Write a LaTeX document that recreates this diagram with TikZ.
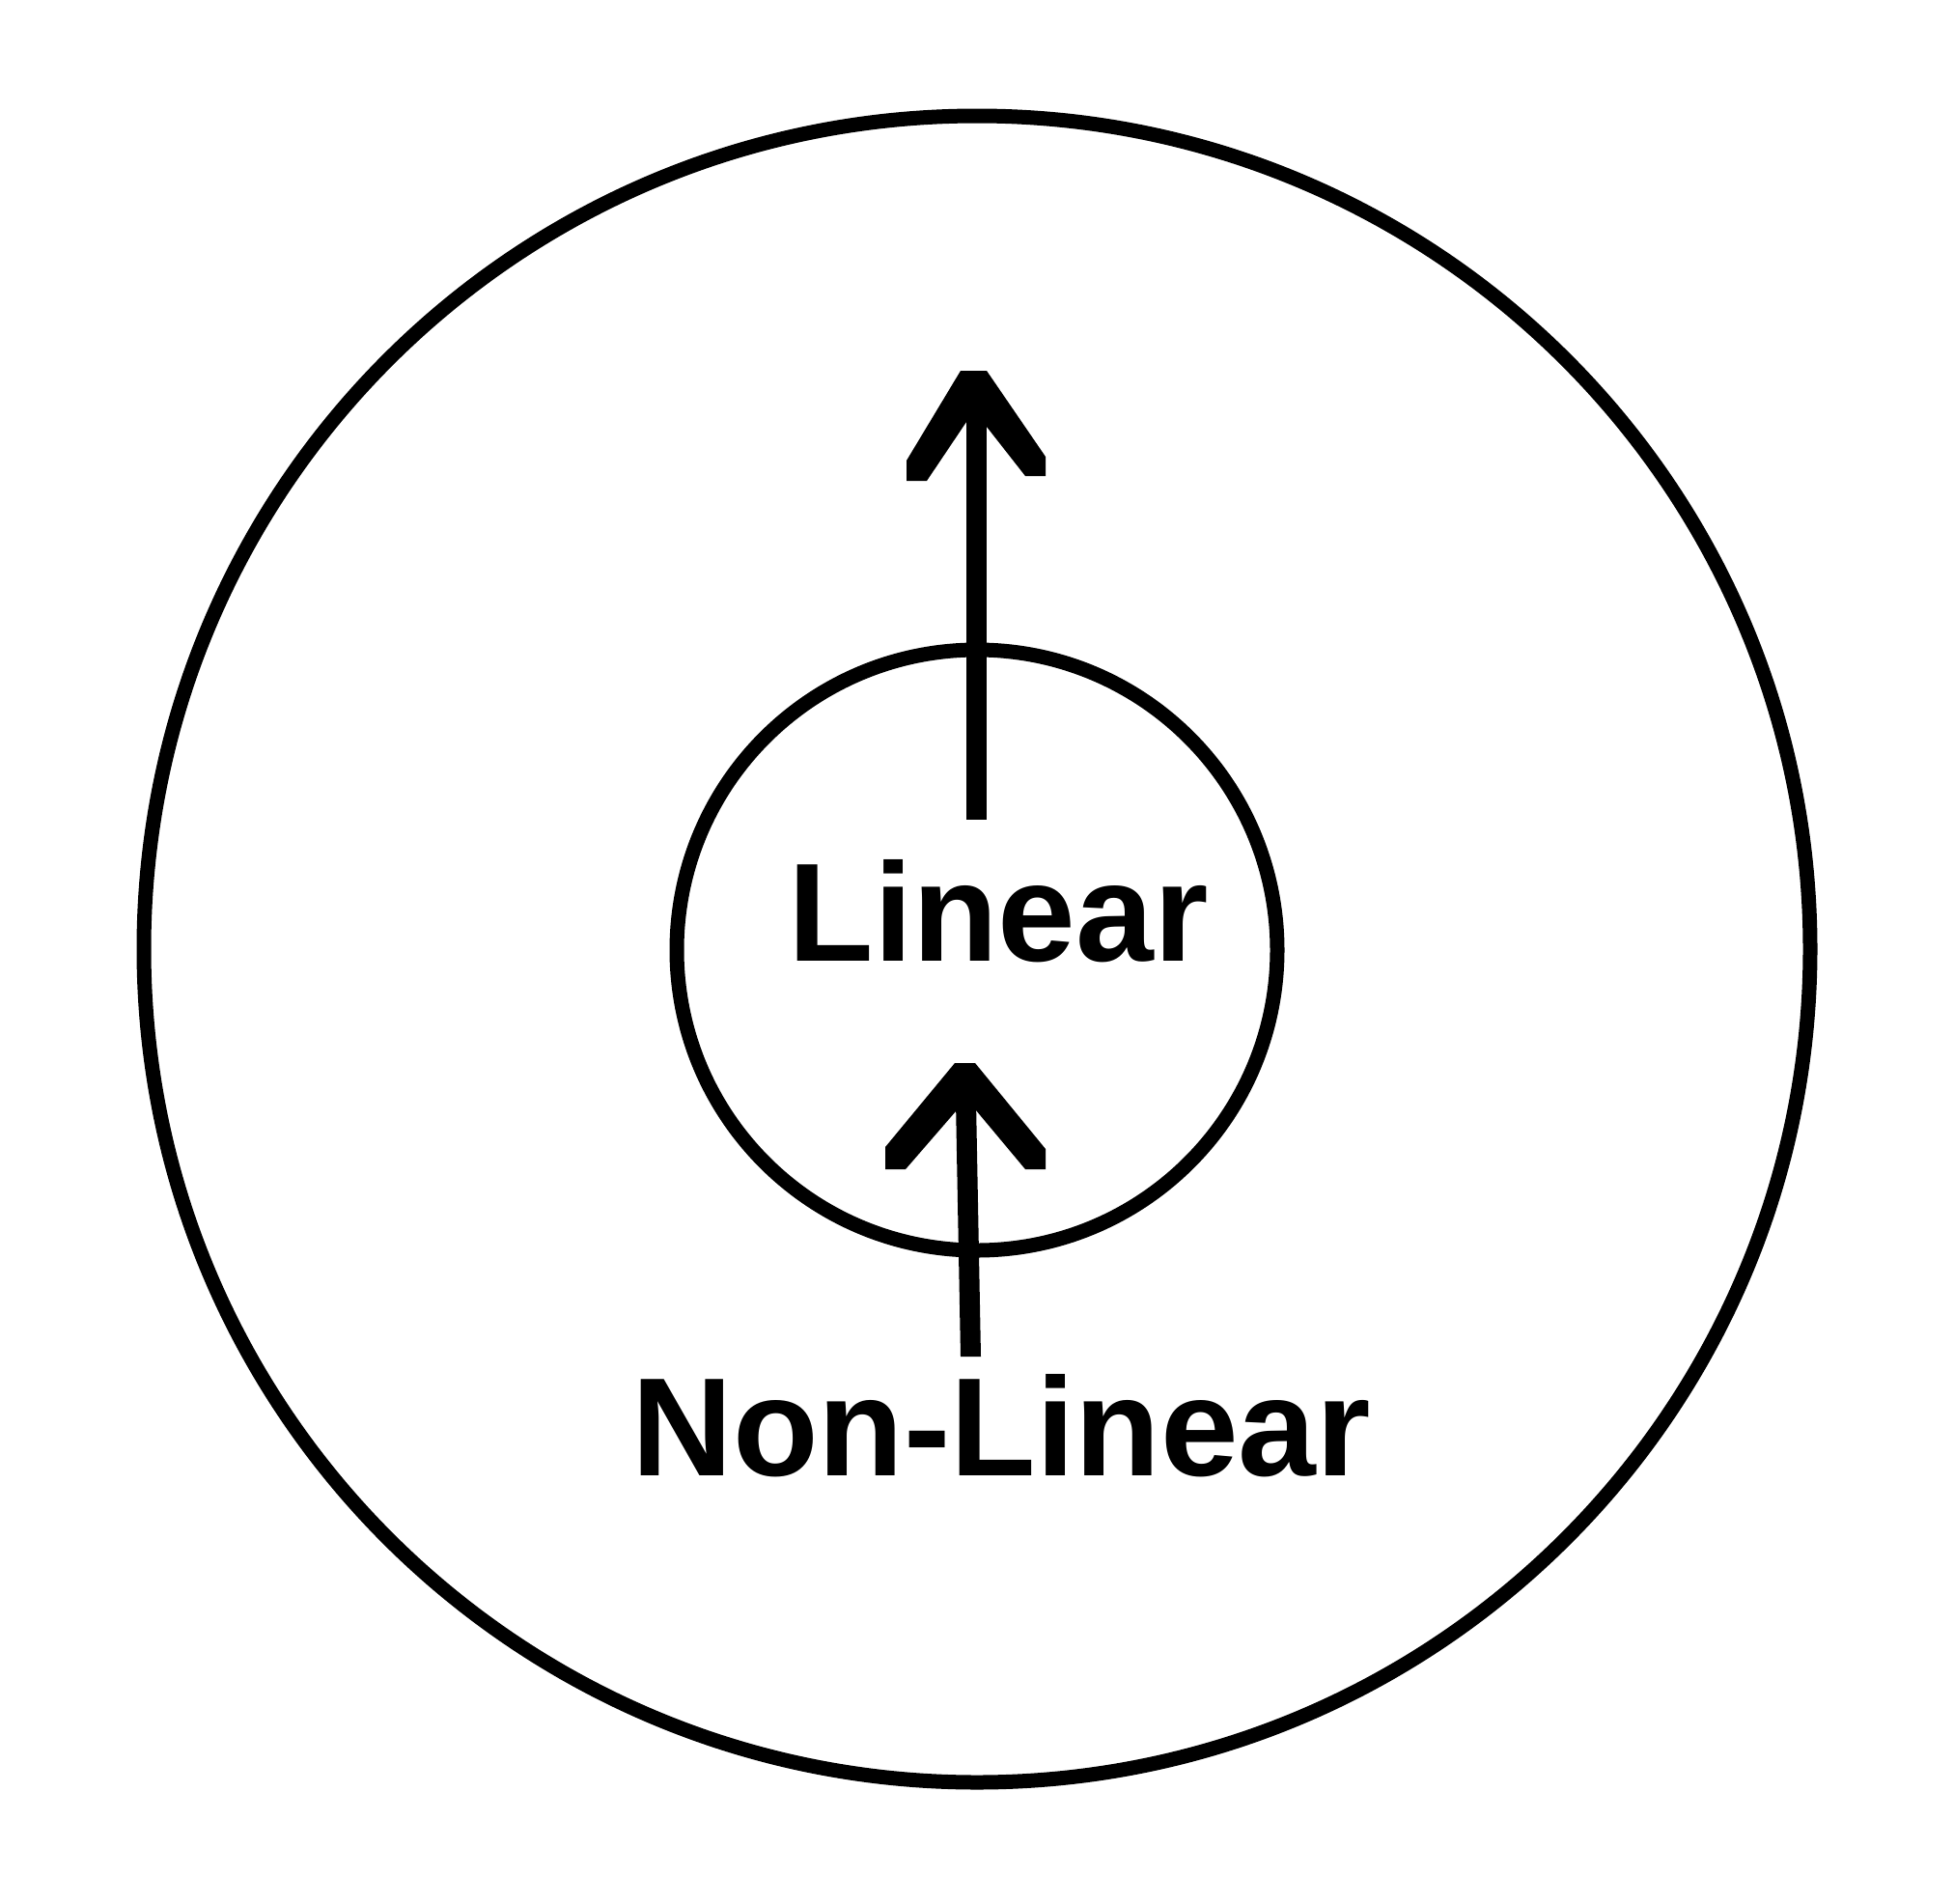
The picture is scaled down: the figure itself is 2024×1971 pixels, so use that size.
\documentclass[tikz,border=0pt]{standalone}
\usepackage{fontspec}
\setmainfont{Liberation Sans}
\begin{document}
\begin{tikzpicture}[x=1pt,y=-1pt,
  ring/.style={draw=black},
  label/.style={inner sep=0pt,anchor=base,font=\fontsize{145}{145}\selectfont\bfseries},
  arrowfill/.style={fill=black}]
\useasboundingbox (0,0) rectangle (2024,1971);
\fill[white] (0,0) rectangle (2024,1971);
% circles
\node[ring,circle,line width=15pt,minimum size=1726pt,inner sep=0pt] (outer) at (1012,983) {};
\node[ring,circle,line width=15pt,minimum size=622pt,inner sep=0pt] (inner) at (1012,984) {};
% labels
\node[label] (lin) at (1034,995) {Linear};
\node[label] (nonlin) at (1037,1528) {Non-Linear};
% arrow 1 (Linear, upward)
\coordinate (a1tail) at (1011.5,849);
\coordinate (a1tip) at (1008.5,384);
\fill[arrowfill] (1001,430) rectangle (1022,849);
\fill[arrowfill] (995,384) -- (1022,384) -- (1083,473) -- (1083,493) -- (1062,493) -- (1022,442)
  -- (1001,437) -- (960,498) -- (939,498) -- (939,477) -- cycle;
% arrow 2 (Non-Linear, upward)
\coordinate (a2tail) at (1005.5,1405);
\coordinate (a2tip) at (999.5,1101);
\fill[arrowfill] (990,1140) -- (1011,1140) -- (1016,1405) -- (995,1405) -- cycle;
\fill[arrowfill] (989,1101) -- (1010,1101) -- (1083,1190) -- (1083,1211) -- (1062,1211) -- (1011,1150)
  -- (990,1151) -- (938,1211) -- (917,1211) -- (917,1188) -- cycle;
\end{tikzpicture}
\end{document}
